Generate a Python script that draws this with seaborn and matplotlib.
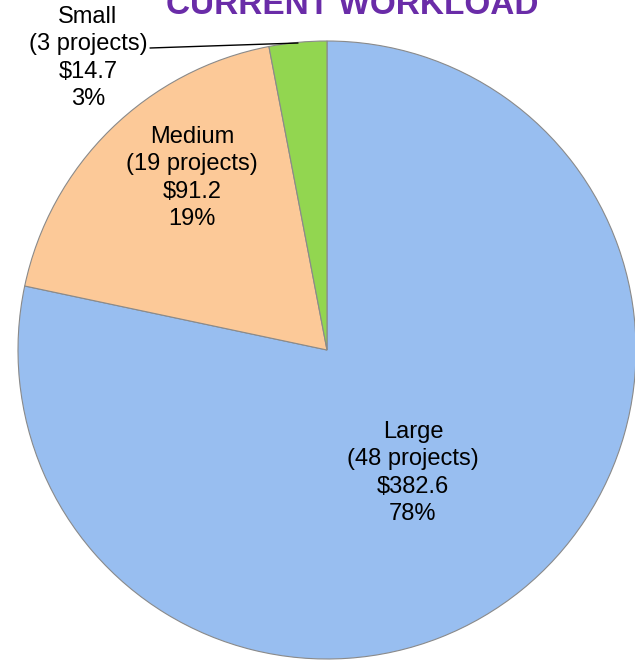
import matplotlib
matplotlib.use("Agg")
import matplotlib.pyplot as plt
import seaborn as sns

categories = ["Large", "Medium", "Small"]
projects = [48, 19, 3]
values = [382.6, 91.2, 14.7]
percents = ["78%", "19%", "3%"]
colors = ["#98BEF0", "#FCC998", "#92D650"]
title = "CURRENT WORKLOAD"

sns.set_style("white")
plt.rcParams["font.family"] = ["Liberation Sans", "DejaVu Sans"]

W, H = 635, 662
fig = plt.figure(figsize=(W / 100, H / 100), dpi=100)
ax = fig.add_axes([0, 0, 1, 1])

cx, cy, R = 327, 350, 309
wedges, _ = ax.pie(values, colors=colors, startangle=90, counterclock=False,
                   radius=1.0, center=(0, 0),
                   wedgeprops=dict(edgecolor="#8a8a8a", linewidth=0.8))
ax.set_aspect("auto")
ax.set_xlim(-cx / R, (W - cx) / R)
ax.set_ylim(-(H - cy) / R, cy / R)
ax.axis("off")

def fpos(px, py):
    return px / W, 1 - py / H

labels = [f"{c}\n({n} projects)\n${v:.1f}\n{p}" for c, n, v, p in zip(categories, projects, values, percents)]
label_px = [(413, 473), (192, 178), (88, 58)]
for lab, (px, py) in zip(labels, label_px):
    x, y = fpos(px, py)
    fig.text(x, y, lab, ha="center", va="center", fontsize=17, linespacing=1.32, color="black")

# leader line for Small
x0, y0 = fpos(150, 48)
x1, y1 = fpos(298, 43)
fig.add_artist(plt.Line2D([x0, x1], [y0, y1], transform=fig.transFigure, color="black", linewidth=1))

tx, ty = fpos(352, 14)
fig.text(tx, ty, title, ha="center", va="baseline", fontsize=24, fontweight="bold", color="#6A2CA8")

fig.savefig("out.png", dpi=100)
